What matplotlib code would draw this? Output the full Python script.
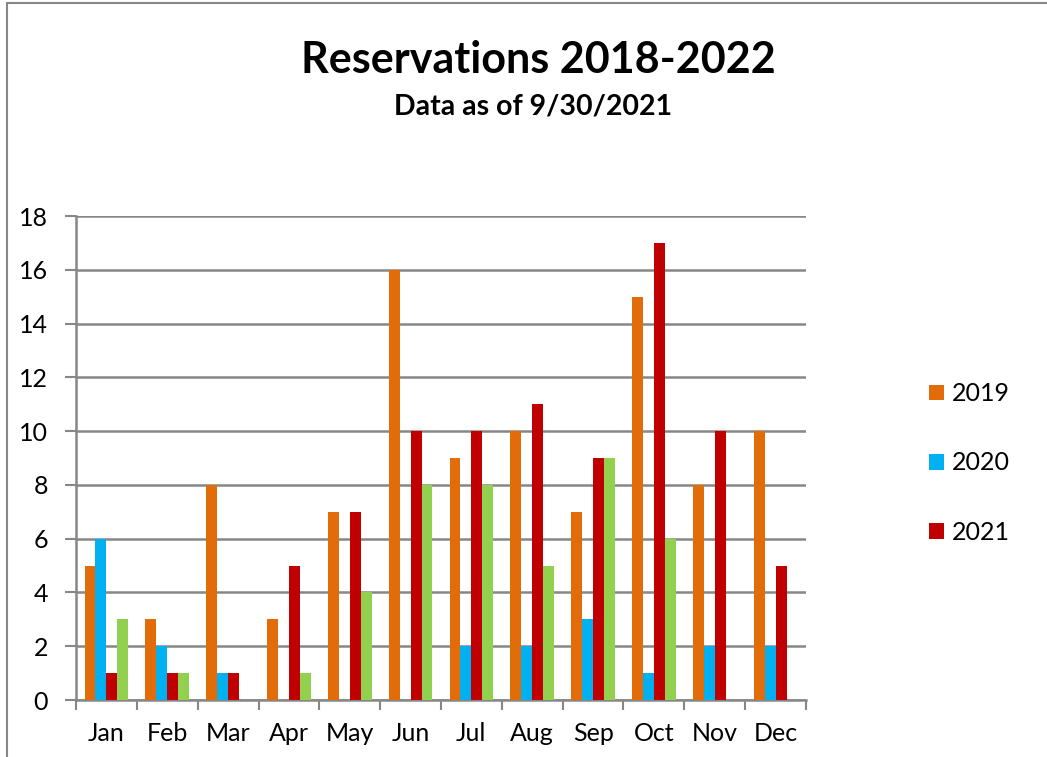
import numpy as np
import matplotlib.pyplot as plt
from matplotlib.patches import Rectangle

plt.rcParams['font.family'] = ['Lato', 'DejaVu Sans']

months = ['Jan', 'Feb', 'Mar', 'Apr', 'May', 'Jun', 'Jul', 'Aug', 'Sep', 'Oct', 'Nov', 'Dec']
y2019 = [5, 3, 8, 3, 7, 16, 9, 10, 7, 15, 8, 10]
y2020 = [6, 2, 1, 0, 0, 0, 2, 2, 3, 1, 2, 2]
y2021 = [1, 1, 1, 5, 7, 10, 10, 11, 9, 17, 10, 5]
y2022 = [3, 1, 0, 1, 4, 8, 8, 5, 9, 6, 0, 0]

series = [('2019', y2019, '#E36C0A'),
          ('2020', y2020, '#00B0F0'),
          ('2021', y2021, '#C00000'),
          ('', y2022, '#92D050')]

fig = plt.figure(figsize=(10.47, 7.57), dpi=100)
ax = fig.add_axes([76/1047, 1-700/757, 730/1047, 484/757])

x = np.arange(len(months))
w = 0.18
handles = []
for i, (name, vals, col) in enumerate(series):
    b = ax.bar(x + (i - 1.5) * w, vals, w, color=col, zorder=3)
    if name:
        handles.append((b, name))

ax.set_xlim(-0.5, 11.5)
ax.set_ylim(0, 18)
ax.set_yticks(range(0, 19, 2))
ax.yaxis.grid(True, color='#878787', linewidth=1.8, zorder=0)
ax.set_xticks(np.arange(-0.5, 12, 1))
ax.set_xticklabels([])
ax.set_xticks(x, minor=True)
ax.set_xticklabels(months, minor=True)
ax.tick_params(axis='x', which='major', length=7, width=1.5, color='#878787', direction='out')
ax.tick_params(axis='x', which='minor', length=0, pad=16, labelsize=18)
ax.tick_params(axis='y', length=8, width=1.5, color='#878787', labelsize=18, pad=12)
for s in ['top', 'right']:
    ax.spines[s].set_visible(False)
for s in ['left', 'bottom']:
    ax.spines[s].set_color('#878787')
    ax.spines[s].set_linewidth(1.8)

fig.legend([h for h, _ in handles], [n for _, n in handles],
           loc='center left', bbox_to_anchor=(906/1047, 1-463/757),
           frameon=False, fontsize=18, handlelength=0.6, handleheight=0.6,
           handletextpad=0.35, labelspacing=1.85)

fig.text(538/1047, 1-60/757, 'Reservations 2018-2022', ha='center', va='center',
         fontsize=31, fontweight='bold')
fig.text(533/1047, 1-107/757, 'Data as of 9/30/2021', ha='center', va='center',
         fontsize=20.5, fontweight='bold')

fig.patches.append(Rectangle((7/1047, -0.1), 1.2, 1 - 3/757 + 0.1, transform=fig.transFigure,
                             fill=False, edgecolor='#878787', linewidth=1.5))

fig.savefig('out.png', dpi=100)
